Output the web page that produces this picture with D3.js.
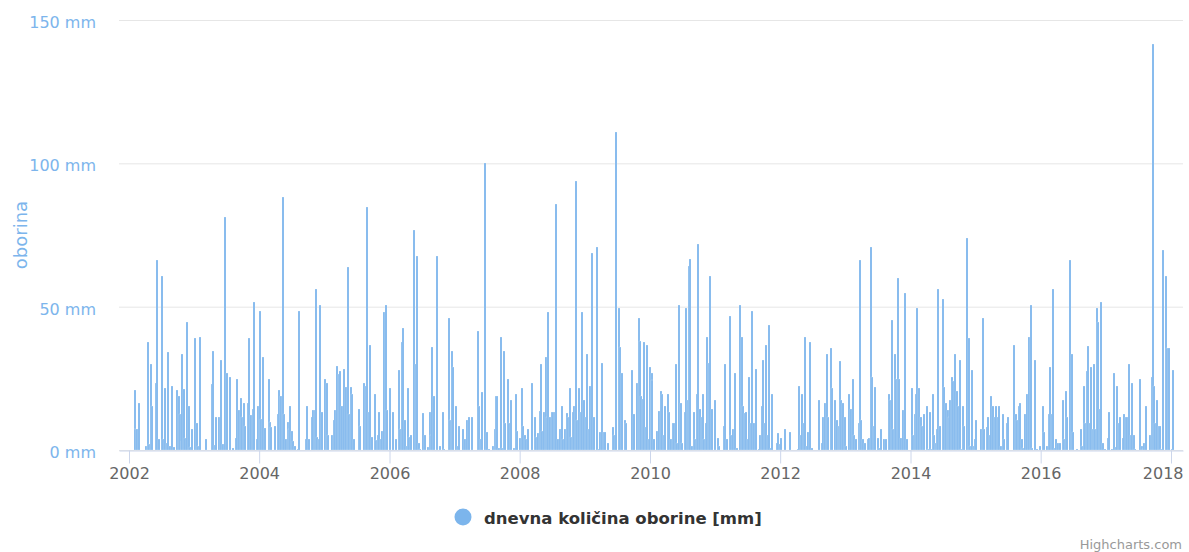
<!DOCTYPE html>
<html>
<head>
<meta charset="utf-8">
<script src="https://cdn.jsdelivr.net/npm/d3@7"></script>
<style>
  body { margin: 0; background: #fff; }
  svg { display: block; font-family: "DejaVu Sans", Verdana, sans-serif; }
</style>
</head>
<body>
<div id="chart"></div>
<script>
// daily rainfall, [day of year, mm] per year
var rain2002 = [[32,21],[36,7.3],[44,7.3],[56,16.5],[99,1.4],[107,37.8],[114,2],[125,29.9],[131,15.5],[150,23.5],[159,66.2],[168,3.8],[184,60.8],[191,3.8],[202,21.8],[212,2.6],[219,34.1],[230,1.4],[243,22.4],[253,1.2],[268,20.8],[279,19],[286,12.6],[296,3.2],[301,33.6],[310,21.3],[316,4.1],[329,44.8],[337,15.5],[344,1.2],[352,7.3]];
var rain2003 = [[5,38.9],[15,9.5],[22,1.4],[37,39.5],[67,3.8],[101,22.9],[108,34.6],[118,1.6],[125,11.6],[142,11.6],[151,31.4],[161,2],[175,81.2],[185,26.7],[200,25.5],[220,0.6],[234,4.2],[243,24.6],[252,13.8],[262,18.1],[271,11.6],[279,16.5],[288,8.5],[305,16.5],[310,38.9],[322,12.2],[329,14.4],[337,51.8],[352,3.8],[361,15.5]];
var rain2004 = [[5,48.6],[12,10.8],[22,32.5],[31,7.6],[54,24.6],[61,9.6],[70,7.9],[89,8.5],[106,12.6],[113,20.8],[121,18.7],[132,88.1],[141,12.6],[149,3.8],[160,9.6],[167,7.3],[175,15.4],[184,6.7],[191,3.2],[200,1.4],[220,0.5],[225,48.6],[261,3.8],[267,15.4],[281,3.8],[295,11.6],[304,13.8],[312,13.8],[319,56],[326,4.4],[338,3.8],[345,50.7],[353,13.4]];
var rain2005 = [[5,24.6],[14,23.5],[23,5.3],[44,5.3],[53,10.6],[62,13.8],[72,29.3],[81,26.5],[90,27.6],[100,15.4],[111,28.1],[121,22],[132,64],[141,12.6],[149,21.9],[158,19.6],[169,3.8],[194,14.4],[201,8.5],[225,23.5],[235,22.4],[242,84.8],[250,13.4],[259,36.7],[268,4.4],[283,19.6],[291,3.4],[304,5.3],[309,13.3],[319,3.8],[326,6.5],[334,48],[345,50.7],[352,13.8]];
var rain2006 = [[2,21.8],[21,13.4],[36,3.8],[55,27.8],[62,7.3],[70,37.8],[79,42.6],[88,10.6],[98,1.4],[105,21.8],[113,4.4],[122,5.3],[139,76.8],[149,29.9],[156,67.8],[165,2.6],[173,0.5],[191,12.8],[201,5.3],[216,1.2],[227,13.4],[234,5.3],[242,35.8],[249,18.7],[266,67.8],[285,1.4],[301,13.4],[309,0.5],[334,45.9],[341,10.6],[351,34.6],[358,28.8]];
var rain2007 = [[11,15.4],[19,1.4],[28,8.5],[51,7.3],[60,3.8],[70,10.6],[81,11.6],[98,11.6],[131,41.6],[138,15.4],[150,3.8],[157,20.2],[174,100],[183,6.4],[194,0.5],[215,1.4],[226,7.3],[234,18.7],[241,18.7],[251,0.6],[260,39.5],[268,0.6],[277,34.6],[286,9.5],[300,24.6],[309,9.5],[318,17.6],[335,0.6],[344,19.6],[351,6.5]];
var rain2008 = [[4,4.1],[13,21.8],[20,8.5],[30,5.3],[37,3.8],[47,7.3],[71,23.5],[86,11.6],[93,4.4],[105,5.9],[114,13.5],[121,29.9],[129,6.5],[138,13.3],[146,32.5],[155,11.6],[162,48],[172,11.6],[181,13.3],[190,13.3],[200,13.3],[205,85.9],[215,3.8],[230,7.3],[239,15.4],[246,3.8],[258,7.3],[265,12.8],[274,11.6],[284,21.8],[290,4.4],[299,13.3],[308,15.4],[318,93.8],[325,10.6],[334,21.8],[344,13.3],[351,48],[361,17.6]];
var rain2009 = [[5,11.6],[13,33.5],[22,7.3],[31,22.4],[43,68.8],[52,11.6],[71,70.9],[80,0.5],[87,6.4],[97,30.5],[106,6.4],[116,6.4],[132,2.6],[156,7.9],[162,5.3],[177,111],[190,49.6],[200,35.8],[209,26.7],[224,10.6],[231,9.5],[265,27.8],[274,12.7],[291,23.5],[302,45.9],[310,37.9],[317,18.7],[326,17.9],[334,37.8],[342,7.9],[351,36.7],[361,3.8]];
var rain2010 = [[1,28.8],[10,26.7],[15,24.4],[26,3.8],[38,6.5],[50,13.5],[60,20.7],[69,19.6],[79,5.3],[86,15.4],[101,19.6],[110,13.3],[118,3.8],[131,9.5],[138,9.5],[146,29.9],[155,2.6],[163,50.7],[176,16.5],[183,2.6],[196,13.3],[204,49.6],[215,17.6],[220,64.1],[228,66.7],[237,1.4],[247,13.3],[254,3.8],[262,19.6],[271,72],[280,14.4],[290,11.6],[297,19.6],[304,3.8],[314,9.5],[323,39.5],[331,30.5],[338,60.8],[348,14.4]];
var rain2011 = [[1,17.5],[17,4.2],[24,1.4],[50,8.5],[59,29.9],[67,3.8],[83,46.9],[91,5.3],[100,7.3],[110,26.7],[126,0.6],[143,50.7],[151,39.5],[160,15.4],[169,12.8],[177,13.3],[186,3.8],[194,25.5],[203,9.5],[210,48.6],[219,9.5],[229,28.2],[247,0.5],[255,5.3],[262,15.4],[270,31.4],[279,9.5],[287,36.8],[298,5.3],[305,43.6],[313,0.6],[322,19.6],[346,2.6],[353,5.9],[363,2]];
var rain2012 = [[8,4.2],[30,7.3],[56,6.4],[101,0.2],[109,22.4],[116,5.3],[125,19.6],[133,9.5],[142,39.5],[151,1.4],[159,6.4],[168,37.8],[178,0.8],[217,17.5],[234,2.6],[243,11.6],[252,16.5],[261,33.5],[269,11.6],[286,35.6],[293,21.8],[310,17.5],[319,10.6],[329,8.5],[336,30.9],[344,17.5],[353,16.5],[363,11.6]];
var rain2013 = [[7,1.4],[22,19.6],[31,14.4],[41,24.6],[48,5.3],[58,3.8],[75,9.5],[82,66.2],[91,10.6],[98,3.8],[110,2.6],[125,3.8],[134,4.2],[142,70.9],[149,25.5],[159,8.5],[167,21.9],[183,4.1],[190,0.6],[199,7.3],[215,3.8],[229,3.8],[243,19.6],[250,17.5],[261,45.3],[269,7.4],[277,33.5],[286,24.6],[295,59.9],[304,24.6],[313,4.2],[324,13.8],[336,54.9],[347,3.8]];
var rain2014 = [[7,21.8],[16,5.3],[25,12.7],[31,19.6],[40,49.6],[49,21.8],[59,11.6],[66,8.5],[76,12.7],[91,15.4],[100,0.2],[108,13.3],[115,0.2],[126,19.6],[134,5.3],[143,2.6],[149,7.3],[158,56],[167,8.5],[182,52.8],[190,21.9],[199,16.5],[209,13.8],[218,11.6],[225,17.5],[234,25.5],[242,23.9],[250,33.5],[259,20.7],[268,15.4],[278,31.4],[285,0.2],[295,15.4],[302,8.5],[319,74.1],[327,38.9],[336,1.4],[345,27.8],[355,1.4],[362,3.8]];
var rain2015 = [[6,10.6],[30,7.3],[40,45.9],[47,7.3],[64,7.9],[73,11.6],[82,5.3],[90,18.7],[99,15.3],[109,11.6],[118,15.3],[127,11.6],[135,15.3],[142,1.4],[152,12.7],[161,3.8],[176,9.5],[185,11.6],[217,36.8],[226,12.7],[236,10.6],[243,15.4],[252,16.5],[260,3.8],[269,0.6],[276,12.7],[289,19.6],[301,39.5],[310,50.7],[320,0.6],[337,31.4],[346,0.2],[361,1.4]];
var rain2016 = [[12,15.4],[22,6.4],[39,1.4],[46,12.7],[56,28.8],[63,12.7],[72,56],[81,0.6],[89,3.8],[98,2.6],[108,2.6],[126,17.5],[134,3.8],[141,20.7],[149,11.6],[165,66.2],[175,33.5],[184,6.2],[207,0.5],[225,7.3],[235,1.4],[242,22.4],[252,9.5],[259,27.6],[266,36.2],[276,9.5],[283,28.8],[293,7.4],[300,29.9],[308,7.4],[317,49.6],[325,44.8],[334,14.4],[342,51.8],[351,2.6],[360,0.5]];
var rain2017 = [[12,4.2],[21,13.3],[36,0.5],[45,26.7],[55,1.1],[62,22.4],[72,9.5],[81,11.6],[98,4.2],[105,12.7],[114,11.6],[122,11.6],[131,29.9],[139,5.3],[148,23.5],[156,5.3],[163,0.5],[191,24.6],[201,1.4],[210,0.5],[217,2.6],[226,15.4],[247,5.3],[257,25.5],[264,141.5],[271,22.4],[279,9.5],[288,17.5],[297,8.5],[307,8.5],[312,0.5],[323,69.9],[336,60.8],[343,35.6],[353,35.6]];
var rain2018 = [[5,0.5],[13,27.8]];

var years = [2002, 2003, 2004, 2005, 2006, 2007, 2008, 2009, 2010, 2011, 2012, 2013, 2014, 2015, 2016, 2017, 2018];
var yearData = [rain2002, rain2003, rain2004, rain2005, rain2006, rain2007, rain2008, rain2009, rain2010, rain2011, rain2012, rain2013, rain2014, rain2015, rain2016, rain2017, rain2018];
var yTicks = [0, 50, 100, 150];
var seriesName = "dnevna količina oborine [mm]";
var yTitle = "oborina";

(function (d3) {

  var width = 1189, height = 552;
  var plotLeft = 119, plotRight = 1183, plotTop = 20, plotBottom = 450;
  var blue = "#7cb5ec";

  var data = [];
  years.forEach(function (yr, i) {
    yearData[i].forEach(function (p) {
      data.push({ date: d3.timeDay.offset(new Date(yr, 0, 1), p[0] - 1), value: p[1] });
    });
  });

  var svg = d3.select("#chart").append("svg")
      .attr("width", width)
      .attr("height", height);

  // year ticks sit at 129 (2002) and 1171 (2018); stretch the domain to the plot edges
  var xRef = d3.scaleTime()
      .domain([new Date(2002, 0, 1), new Date(2018, 0, 1)])
      .range([129, 1171]);
  var x = d3.scaleTime()
      .domain([xRef.invert(plotLeft), xRef.invert(plotRight)])
      .range([plotLeft, plotRight]);

  var y = d3.scaleLinear()
      .domain([0, 150])
      .range([plotBottom, plotTop]);

  // grid
  svg.append("g")
    .selectAll("line")
    .data(yTicks)
    .enter().append("line")
      .attr("x1", plotLeft)
      .attr("x2", plotRight)
      .attr("y1", function (d) { return y(d) + 0.5; })
      .attr("y2", function (d) { return y(d) + 0.5; })
      .attr("stroke", "#e6e6e6")
      .attr("stroke-width", 1);

  // y labels
  svg.append("g")
    .selectAll("text")
    .data(yTicks)
    .enter().append("text")
      .attr("x", 96)
      .attr("y", function (d) { return y(d) + 8; })
      .attr("text-anchor", "end")
      .attr("font-size", "16px")
      .attr("fill", blue)
      .text(function (d) { return d + " mm"; });

  svg.append("text")
      .attr("transform", "translate(20," + ((plotTop + plotBottom) / 2) + ") rotate(-90)")
      .attr("text-anchor", "middle")
      .attr("dominant-baseline", "central")
      .attr("font-size", "18px")
      .attr("fill", blue)
      .text(yTitle);

  // columns, snapped to whole pixels like the original
  svg.append("g")
    .selectAll("rect")
    .data(data)
    .enter().append("rect")
      .attr("x", function (d) { return Math.round(x(d.date)) - 1; })
      .attr("width", 2)
      .attr("y", function (d) { return Math.round(y(d.value)); })
      .attr("height", function (d) { return plotBottom - Math.round(y(d.value)); })
      .attr("fill", blue)
      .attr("stroke", "#fff")
      .attr("stroke-opacity", 0.7)
      .attr("stroke-width", 0.3);

  // x axis
  var xAxis = d3.axisBottom(x)
      .tickValues(years.filter(function (d) { return d % 2 === 0; }).map(function (d) { return new Date(d, 0, 1); }))
      .tickFormat(d3.timeFormat("%Y"))
      .tickSize(13)
      .tickPadding(4)
      .tickSizeOuter(0);

  var gx = svg.append("g")
      .attr("transform", "translate(0," + (plotBottom + 0.5) + ")")
      .call(xAxis);
  gx.select(".domain").attr("stroke", "#ccd6eb");
  gx.selectAll(".tick line").attr("stroke", "#ccd6eb");
  gx.selectAll(".tick text")
      .attr("font-size", "16px")
      .attr("font-family", "DejaVu Sans, Verdana, sans-serif")
      .attr("fill", "#666");
  // last label is pulled in so it stays inside the chart
  gx.selectAll(".tick text").filter(function (d) { return x(d) + 21 > plotRight; })
      .attr("text-anchor", "end")
      .attr("x", function (d) { return plotRight - x(d); });

  // legend
  var legend = svg.append("g");
  legend.append("circle")
      .attr("cx", 463)
      .attr("cy", 517)
      .attr("r", 8.5)
      .attr("fill", blue);
  legend.append("text")
      .attr("x", 484)
      .attr("y", 524)
      .attr("font-size", "16.5px")
      .attr("font-weight", "bold")
      .attr("fill", "#333")
      .text(seriesName);

  svg.append("text")
      .attr("x", 1182)
      .attr("y", 549)
      .attr("text-anchor", "end")
      .attr("font-size", "13px")
      .attr("fill", "#999")
      .text("Highcharts.com");

})(window.d3);
</script>
</body>
</html>
